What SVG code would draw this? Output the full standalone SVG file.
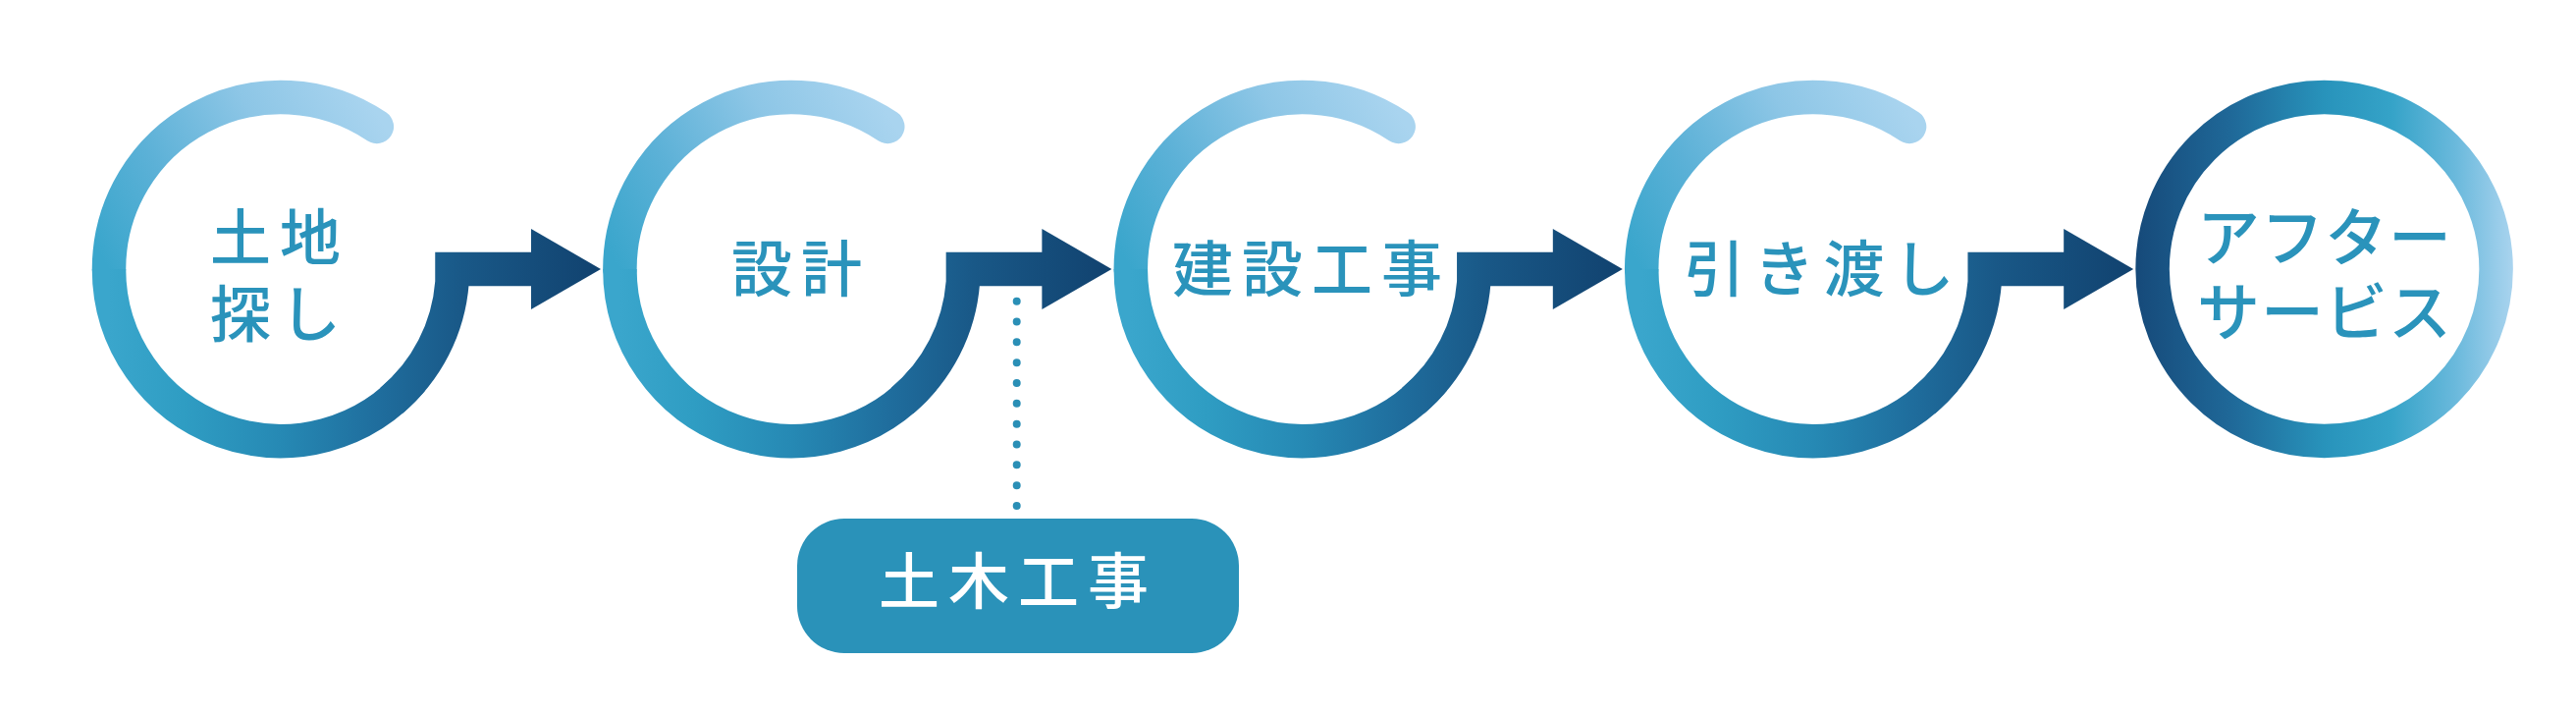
<svg xmlns="http://www.w3.org/2000/svg" width="2624" height="729" viewBox="0 0 2624 729">
<defs>
<linearGradient id="gA" gradientUnits="userSpaceOnUse" x1="98" y1="-159" x2="-175" y2="0">
<stop offset="0" stop-color="#a9d4ef"/>
<stop offset="0.35" stop-color="#8dc6e6"/>
<stop offset="0.7" stop-color="#5cb1d7"/>
<stop offset="1" stop-color="#3aa6cc"/>
</linearGradient>
<linearGradient id="gB" gradientUnits="userSpaceOnUse" x1="-175" y1="0" x2="326" y2="0">
<stop offset="0" stop-color="#3aa6cc"/>
<stop offset="0.15" stop-color="#2f9dc3"/>
<stop offset="0.35" stop-color="#2689b4"/>
<stop offset="0.55" stop-color="#1f6d9d"/>
<stop offset="0.72" stop-color="#195887"/>
<stop offset="1" stop-color="#11426f"/>
</linearGradient>
<linearGradient id="gC" gradientUnits="userSpaceOnUse" x1="-191" y1="0" x2="191" y2="0">
<stop offset="0" stop-color="#164a7a"/>
<stop offset="0.25" stop-color="#1f6898"/>
<stop offset="0.5" stop-color="#2893bb"/>
<stop offset="0.68" stop-color="#35a3c8"/>
<stop offset="0.85" stop-color="#6ab9dc"/>
<stop offset="1" stop-color="#a8d3ee"/>
</linearGradient>
</defs>
<style>
.ringA{fill:none;stroke:url(#gA);stroke-width:34.5;stroke-linecap:round}
.ringB{fill:none;stroke:url(#gB);stroke-width:34.5;stroke-linecap:butt}
.ringC{fill:none;stroke:url(#gC);stroke-width:34.5}
.hook{fill:none;stroke:url(#gB);stroke-width:34.5;stroke-linecap:butt;stroke-linejoin:miter;stroke-miterlimit:10}
.head{fill:url(#gB)}
.lbl{font-family:"Noto Sans CJK JP","Noto Sans CJK SC",sans-serif;font-size:62px;font-weight:500;fill:#2a93bb;text-anchor:middle;letter-spacing:9px}
.kata{font-size:64px;letter-spacing:1px}
.pill{fill:#2a92b9}
.pilltxt{font-family:"Noto Sans CJK JP","Noto Sans CJK SC",sans-serif;font-size:62px;font-weight:500;fill:#ffffff;text-anchor:middle;letter-spacing:9px}
.dots{fill:none;stroke:#2a8fb6;stroke-width:8;stroke-linecap:round;stroke-dasharray:0 20.83}
</style>
<rect width="2624" height="729" fill="#ffffff"/>

<g id="connectors">
<g transform="translate(286,274)">
<path class="hook" d="M 112.49 134.06 A 175 175 0 0 0 174.5 13.2 L 174.5 0 L 257 0"/>
<polygon class="head" points="255,-41 326,0 255,41"/>
</g>
<g transform="translate(806.4,274)">
<path class="hook" d="M 112.49 134.06 A 175 175 0 0 0 174.5 13.2 L 174.5 0 L 257 0"/>
<polygon class="head" points="255,-41 326,0 255,41"/>
</g>
<g transform="translate(1326.8,274)">
<path class="hook" d="M 112.49 134.06 A 175 175 0 0 0 174.5 13.2 L 174.5 0 L 257 0"/>
<polygon class="head" points="255,-41 326,0 255,41"/>
</g>
<g transform="translate(1847.2,274)">
<path class="hook" d="M 112.49 134.06 A 175 175 0 0 0 174.5 13.2 L 174.5 0 L 257 0"/>
<polygon class="head" points="255,-41 326,0 255,41"/>
</g>
<path class="dots" d="M 1035.7 306.7 L 1035.7 515.2"/>
</g>

<g id="node1" transform="translate(286,274)">
<path class="ringA" d="M 97.86 -145.08 A 175 175 0 0 0 -175 0"/>
<path class="ringB" d="M -175 0 A 175 175 0 0 0 134.06 112.49"/>
<text class="lbl"><tspan x="-1" y="-9">土地</tspan><tspan x="-1" y="69">探し</tspan></text>
</g>

<g id="node2" transform="translate(806.4,274)">
<path class="ringA" d="M 97.86 -145.08 A 175 175 0 0 0 -175 0"/>
<path class="ringB" d="M -175 0 A 175 175 0 0 0 134.06 112.49"/>
<text class="lbl" x="9.6" y="23">設計</text>
</g>

<g id="node3" transform="translate(1326.8,274)">
<path class="ringA" d="M 97.86 -145.08 A 175 175 0 0 0 -175 0"/>
<path class="ringB" d="M -175 0 A 175 175 0 0 0 134.06 112.49"/>
<text class="lbl" x="9.2" y="23">建設工事</text>
</g>

<g id="node4" transform="translate(1847.2,274)">
<path class="ringA" d="M 97.86 -145.08 A 175 175 0 0 0 -175 0"/>
<path class="ringB" d="M -175 0 A 175 175 0 0 0 134.06 112.49"/>
<text class="lbl" x="10.3" y="23">引き渡し</text>
</g>

<g id="node5" transform="translate(2367.6,274)">
<circle class="ringC" cx="0" cy="0" r="175"/>
<text class="lbl kata"><tspan x="0.5" y="-9">アフター</tspan><tspan x="0.5" y="67">サービス</tspan></text>
</g>

<g id="node6">
<rect class="pill" x="812" y="528" width="450" height="137" rx="48" ry="48"/>
<text class="pilltxt" x="1037" y="615">土木工事</text>
</g>
</svg>
